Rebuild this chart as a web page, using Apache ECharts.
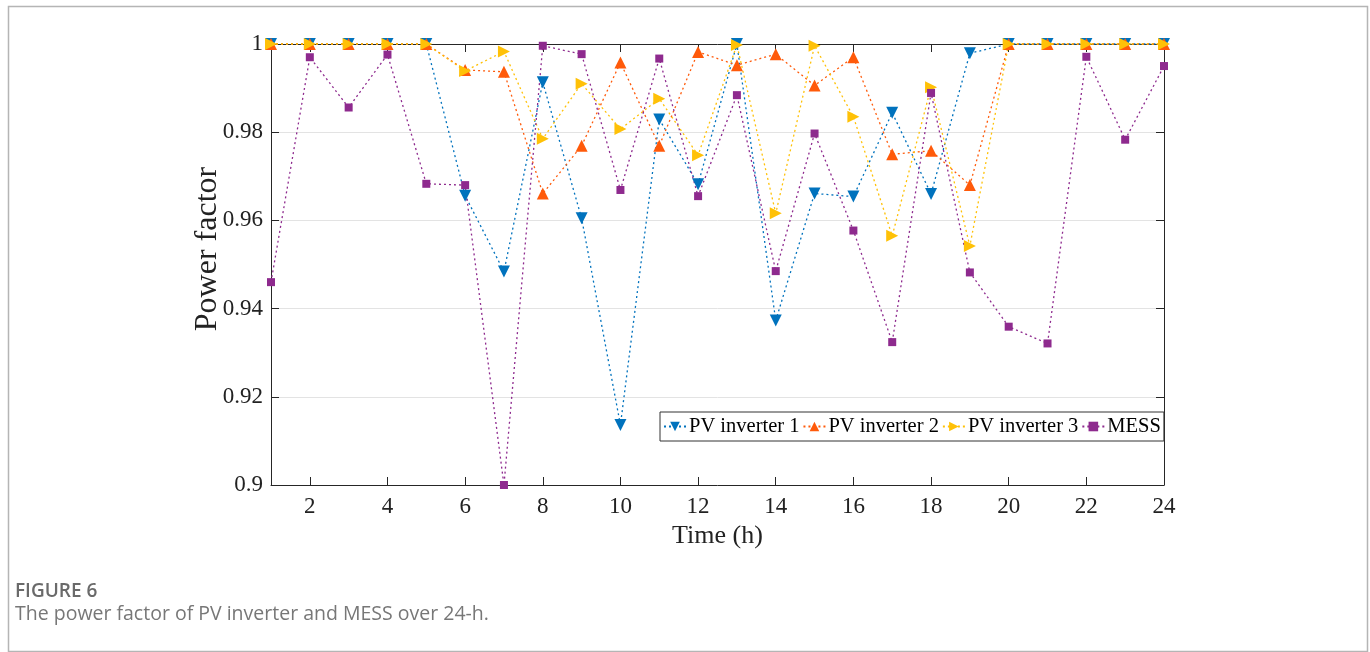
<!DOCTYPE html>
<html>
<head>
<meta charset="utf-8">
<script src="https://cdn.jsdelivr.net/npm/echarts@6/dist/echarts.min.js"></script>
<style>
  html, body { margin: 0; padding: 0; background: #fff; }
  #chart { width: 1370px; height: 652px; }
</style>
</head>
<body>
<div id="chart"></div>
<script>
// Hours of the day
const hours = [1, 2, 3, 4, 5, 6, 7, 8, 9, 10, 11, 12, 13, 14, 15, 16, 17, 18, 19, 20, 21, 22, 23, 24];
// Power factor per hour
const pvInverter1 = [1, 1, 1, 1, 1, 0.9656, 0.9484, 0.9913, 0.9605, 0.9136, 0.9829, 0.9682, 1.0, 0.9373, 0.9661, 0.9654, 0.9844, 0.9660, 0.9979, 1, 1, 1, 1, 1];
const pvInverter2 = [1, 1, 1, 1, 1, 0.9941, 0.9937, 0.9661, 0.9769, 0.9958, 0.9769, 0.9982, 0.9952, 0.9977, 0.9906, 0.9970, 0.9750, 0.9758, 0.9680, 1, 1, 1, 1, 1];
const pvInverter3 = [1, 1, 1, 1, 1, 0.9939, 0.9983, 0.9785, 0.9910, 0.9807, 0.9876, 0.9748, 0.9998, 0.9616, 0.9996, 0.9835, 0.9565, 0.9902, 0.9542, 1, 1, 1, 1, 1];
const mess = [0.9460, 0.9970, 0.9856, 0.9976, 0.9683, 0.9680, 0.9000, 0.9996, 0.9977, 0.9669, 0.9967, 0.9655, 0.9884, 0.9485, 0.9797, 0.9577, 0.9324, 0.9889, 0.9482, 0.9359, 0.9321, 0.9971, 0.9783, 0.9950];
// Axis ticks
const xTicks = [2, 4, 6, 8, 10, 12, 14, 16, 18, 20, 22, 24];

const serif = '"Liberation Serif", "Times New Roman", serif';
const axisColor = '#262626';

function pairs(vals) {
  return hours.map((h, i) => [h, vals[i]]);
}

function lineSeries(name, vals, color, symbol, rotate, size) {
  return {
    name: name,
    type: 'line',
    data: pairs(vals),
    symbol: symbol,
    symbolSize: size,
    symbolRotate: rotate,
    clip: false,
    lineStyle: { color: color, width: 1.3, type: [2, 3] },
    itemStyle: { color: color, borderWidth: 0 },
    emphasis: { disabled: true },
    animation: false
  };
}

const chart = echarts.init(document.getElementById('chart'), null, { renderer: 'canvas' });

chart.setOption({
  backgroundColor: '#ffffff',
  animation: false,
  grid: { left: 271, right: 206, top: 44, bottom: 167, containLabel: false },
  legend: {
    left: 660,
    top: 412,
    orient: 'horizontal',
    itemWidth: 22,
    itemHeight: 12,
    itemGap: 3,
    padding: [4, 3, 4, 3],
    borderColor: '#333',
    borderWidth: 1,
    backgroundColor: '#fff',
    textStyle: { fontFamily: serif, fontSize: 20.5, color: '#000', padding: [0, 0, 0, -2] },
    data: ['PV inverter 1', 'PV inverter 2', 'PV inverter 3', 'MESS']
  },
  xAxis: [
    {
      type: 'value',
      min: 1,
      max: 24,
      name: 'Time (h)',
      nameLocation: 'middle',
      nameGap: 37,
      nameTextStyle: { fontFamily: serif, fontSize: 26, color: '#222' },
      axisLine: { show: true, lineStyle: { color: axisColor, width: 1 } },
      axisTick: { show: true, inside: true, length: 8, customValues: xTicks, lineStyle: { color: axisColor } },
      axisLabel: { customValues: xTicks, margin: 10, fontFamily: serif, fontSize: 23, color: '#222' },
      splitLine: { show: false }
    },
    {
      type: 'value',
      position: 'top',
      min: 1,
      max: 24,
      axisLine: { show: true, onZero: false, lineStyle: { color: axisColor, width: 1 } },
      axisTick: { show: true, inside: true, length: 8, customValues: xTicks, lineStyle: { color: axisColor } },
      axisLabel: { show: false },
      splitLine: { show: false }
    }
  ],
  yAxis: [
    {
      type: 'value',
      min: 0.9,
      max: 1,
      interval: 0.02,
      axisLine: { show: true, onZero: false, lineStyle: { color: axisColor, width: 1 } },
      axisTick: { show: true, inside: true, length: 8, lineStyle: { color: axisColor } },
      axisLabel: {
        margin: 8,
        fontFamily: serif,
        fontSize: 23,
        color: '#222',
        formatter: v => String(Number(v.toFixed(2)))
      },
      splitLine: { show: true, lineStyle: { color: '#e3e3e3', width: 1 } }
    },
    {
      type: 'value',
      position: 'right',
      min: 0.9,
      max: 1,
      interval: 0.02,
      axisLine: { show: true, onZero: false, lineStyle: { color: axisColor, width: 1 } },
      axisTick: { show: true, inside: true, length: 8, lineStyle: { color: axisColor } },
      axisLabel: { show: false },
      splitLine: { show: false }
    }
  ],
  series: [
    lineSeries('PV inverter 1', pvInverter1, '#0072BD', 'triangle', 180, 12),
    lineSeries('PV inverter 2', pvInverter2, '#FF5A0A', 'triangle', 0, 12),
    lineSeries('PV inverter 3', pvInverter3, '#FFC107', 'triangle', -90, 12),
    lineSeries('MESS', mess, '#8E2A8E', 'rect', 0, 8)
  ],
  graphic: [
    {
      type: 'rect',
      left: 6,
      top: 4,
      shape: { width: 1359, height: 645 },
      style: { fill: 'none', stroke: '#b5b5b5', lineWidth: 1.5 },
      silent: true,
      z: -1
    },
    {
      // y-axis title
      type: 'text',
      x: 208,
      y: 249,
      rotation: Math.PI / 2,
      style: {
        text: 'Power factor',
        font: '32px "Liberation Serif", "Times New Roman", serif',
        fill: '#222',
        align: 'center',
        verticalAlign: 'middle'
      },
      silent: true
    },
    {
      type: 'text',
      left: 15,
      top: 582,
      style: { text: 'FIGURE 6', font: '600 19px "Open Sans", sans-serif', fill: '#6a6a6a' },
      silent: true
    },
    {
      type: 'text',
      left: 15,
      top: 604,
      style: { text: 'The power factor of PV inverter and MESS over 24-h.', font: '19.5px "Open Sans", sans-serif', fill: '#777777' },
      silent: true
    }
  ]
});
</script>
</body>
</html>
